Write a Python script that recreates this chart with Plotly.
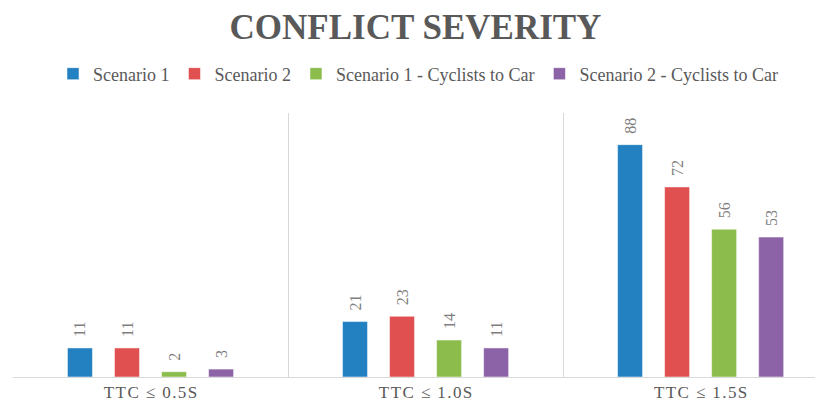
import plotly.graph_objects as go

categories = ["TTC ≤ 0.5S", "TTC ≤ 1.0S", "TTC ≤ 1.5S"]
series_names = ["Scenario 1", "Scenario 2", "Scenario 1 - Cyclists to Car", "Scenario 2 - Cyclists to Car"]
scenario1 = [11, 21, 88]
scenario2 = [11, 23, 72]
scenario1_cyc = [2, 14, 56]
scenario2_cyc = [3, 11, 53]
colors = ["#2381C1", "#E05050", "#8CBD4C", "#8B63A6"]

def spaced(s):
    return "\u200a".join(list(s))

tick_text = [spaced(c) for c in categories]

fig = go.Figure()
for name, vals, col in zip(series_names, [scenario1, scenario2, scenario1_cyc, scenario2_cyc], colors):
    fig.add_trace(go.Bar(
        name=name, x=categories, y=vals,
        marker=dict(color=col, line=dict(color="rgba(255,255,255,0.5)", width=1)),
        text=["\u00a0\u00a0" + str(v) for v in vals], textposition="outside", textangle=-90,
        textfont=dict(family="Liberation Serif", size=16, color="#7f7f7f"),
        cliponaxis=False,
    ))

fig.update_layout(
    width=815, height=400,
    margin=dict(l=5, r=0, t=105, b=31),
    paper_bgcolor="white", plot_bgcolor="white",
    barmode="group", bargap=0.316, bargroupgap=0.468,
    title=dict(text="<b>CONFLICT SEVERITY</b>", x=0.5, xanchor="center", y=0.954, yanchor="middle",
               font=dict(family="Liberation Serif", size=35, color="#595959")),
    legend=dict(orientation="h", x=0.5, xanchor="center", y=1.148, yanchor="middle",
                font=dict(family="Liberation Serif", size=18, color="#595959"),
                itemwidth=30, traceorder="normal"),
    xaxis=dict(range=[-0.5, 2.445], tickmode="array", tickvals=categories, ticktext=tick_text,
               tickson="boundaries", showgrid=True, gridcolor="#d9d9d9", gridwidth=1,
               showline=True, linecolor="#d9d9d9", linewidth=1, ticks="",
               tickfont=dict(family="Liberation Serif", size=17, color="#595959")),
    yaxis=dict(range=[0, 100], visible=False, showgrid=False, zeroline=False),
    uniformtext=dict(mode=False),
)

fig.write_html("out.html")
